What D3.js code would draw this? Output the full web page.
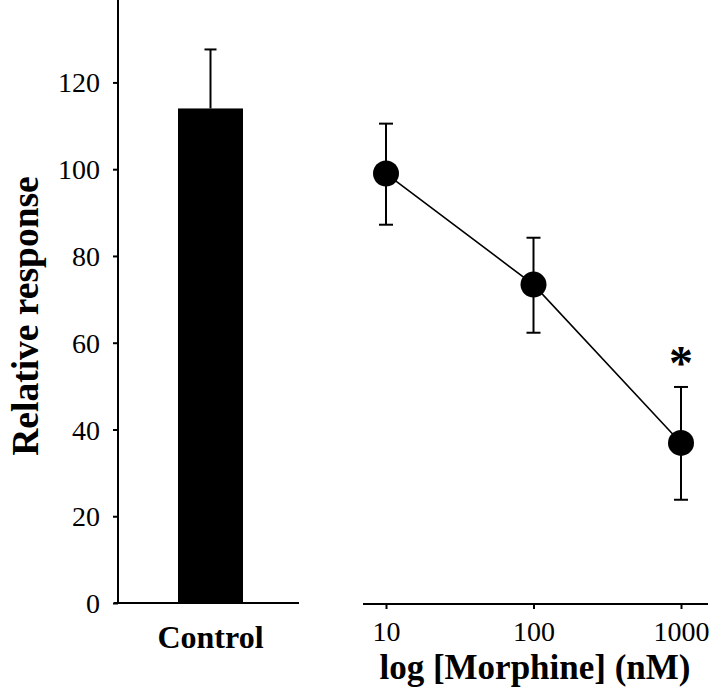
<!DOCTYPE html>
<html>
<head>
<meta charset="utf-8">
<script src="https://cdn.jsdelivr.net/npm/d3@7"></script>
<style>
  html, body { margin: 0; padding: 0; background: #fff; }
  svg { display: block; }
  text { font-family: "Liberation Serif", "Times New Roman", serif; fill: #000; }
</style>
</head>
<body>
<svg id="chart" width="720" height="696"></svg>
<script>
// ---- data ----
const barCategories = ["Control"];
const barValues = [114];
const barErrors = [13.6];

const doses = [10, 100, 1000];
const doseValues = [99, 73.4, 36.9];
const doseErrorsUp = [11.5, 10.8, 12.9];
const doseErrorsDown = [11.8, 11.1, 13.1];
const significant = [false, false, true];

const yTicks = [0, 20, 40, 60, 80, 100, 120];
const xTickLabels = ["10", "100", "1000"];

// ---- layout ----
const svg = d3.select("#chart");
const yBase = 603;
const y = d3.scaleLinear().domain([0, 139]).range([yBase, 0]);
const xBar = d3.scaleBand().domain(barCategories).range([118, 303]).paddingInner(0).paddingOuter(0.923);
const xDose = d3.scaleLog().domain([10, 1000]).range([386, 681]);

// y axis
const yAxis = svg.append("g").attr("transform", "translate(118,0)")
  .call(d3.axisLeft(y).tickValues(yTicks).tickSize(5).tickSizeOuter(0).tickPadding(13));
yAxis.select(".domain").remove();
yAxis.selectAll(".tick line").attr("stroke", "#000").attr("stroke-width", 2);
yAxis.selectAll(".tick text").style("font-size", "28px").attr("dy", "0.34em");
svg.append("line").attr("x1", 118).attr("x2", 118).attr("y1", y(139)).attr("y2", yBase + 1)
  .attr("stroke", "#000").attr("stroke-width", 2);

// left x baseline
svg.append("line").attr("x1", 114).attr("x2", 299).attr("y1", yBase).attr("y2", yBase)
  .attr("stroke", "#000").attr("stroke-width", 2);

// bar
svg.selectAll("rect.bar").data(barCategories).join("rect").attr("class", "bar")
  .attr("x", d => xBar(d)).attr("width", xBar.bandwidth())
  .attr("y", (d, i) => y(barValues[i])).attr("height", (d, i) => yBase - y(barValues[i]))
  .attr("fill", "#000");
// bar error
barCategories.forEach((c, i) => {
  const cx = xBar(c) + xBar.bandwidth() / 2;
  svg.append("line").attr("x1", cx).attr("x2", cx).attr("y1", y(barValues[i])).attr("y2", y(barValues[i] + barErrors[i]))
    .attr("stroke", "#000").attr("stroke-width", 2);
  svg.append("line").attr("x1", cx - 6).attr("x2", cx + 6).attr("y1", y(barValues[i] + barErrors[i])).attr("y2", y(barValues[i] + barErrors[i]))
    .attr("stroke", "#000").attr("stroke-width", 2);
  svg.append("text").attr("x", cx).attr("y", 648).attr("text-anchor", "middle")
    .style("font-size", "32px").style("font-weight", "bold").text(c);
});

// right x axis
svg.append("line").attr("x1", 363).attr("x2", 708).attr("y1", 604).attr("y2", 604)
  .attr("stroke", "#000").attr("stroke-width", 2);
const xAxis = svg.append("g").attr("transform", "translate(0,604)")
  .call(d3.axisBottom(xDose).tickValues(doses).tickFormat((d, i) => xTickLabels[i]).tickSize(5).tickSizeOuter(0).tickPadding(12));
xAxis.select(".domain").remove();
xAxis.selectAll(".tick line").attr("stroke", "#000").attr("stroke-width", 2);
xAxis.selectAll(".tick text").style("font-size", "28px");

svg.append("text").attr("x", 535).attr("y", 679).attr("text-anchor", "middle")
  .style("font-size", "35px").style("font-weight", "bold").text("log [Morphine] (nM)");

// y label
svg.append("text").attr("transform", "translate(38,316) rotate(-90)").attr("text-anchor", "middle")
  .style("font-size", "37.5px").style("font-weight", "bold").text("Relative response");

// line
const line = d3.line().x((d, i) => xDose(doses[i])).y(d => y(d));
svg.append("path").datum(doseValues).attr("d", line).attr("fill", "none").attr("stroke", "#000").attr("stroke-width", 1.6);

// error bars
doses.forEach((d, i) => {
  const cx = xDose(d);
  const top = y(doseValues[i] + doseErrorsUp[i]);
  const bot = y(doseValues[i] - doseErrorsDown[i]);
  svg.append("line").attr("x1", cx).attr("x2", cx).attr("y1", top).attr("y2", bot).attr("stroke", "#000").attr("stroke-width", 2);
  [top, bot].forEach(yy => svg.append("line").attr("x1", cx - 7).attr("x2", cx + 7).attr("y1", yy).attr("y2", yy).attr("stroke", "#000").attr("stroke-width", 2));
});

// points
svg.selectAll("circle.pt").data(doseValues).join("circle").attr("class", "pt")
  .attr("cx", (d, i) => xDose(doses[i])).attr("cy", d => y(d)).attr("r", 13).attr("fill", "#000");

// significance
doses.forEach((d, i) => {
  if (significant[i]) {
    svg.append("text").attr("x", xDose(d)).attr("y", y(doseValues[i] + doseErrorsUp[i]) - 8)
      .attr("text-anchor", "middle").style("font-size", "48px").style("font-weight", "bold").text("*");
  }
});
</script>
</body>
</html>
